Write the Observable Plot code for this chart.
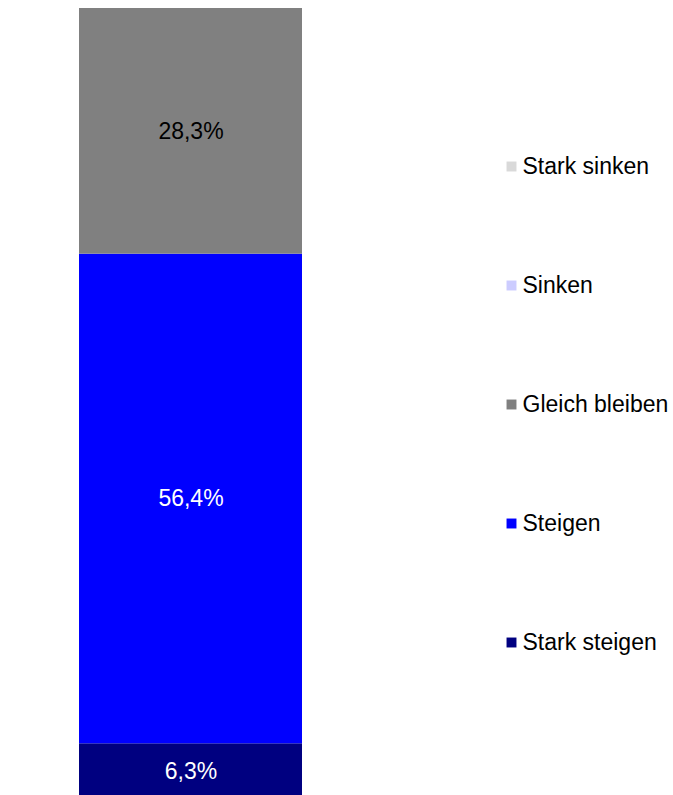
<!DOCTYPE html>
<html>
<head>
<meta charset="utf-8">
<script src="https://cdn.jsdelivr.net/npm/d3@7"></script>
<script src="https://cdn.jsdelivr.net/npm/@observablehq/plot@0.6"></script>
<style>
  html, body { margin: 0; padding: 0; background: #fff; overflow: hidden; }
  #wrap { position: relative; width: 673px; height: 795px; }
  #chart { position: absolute; left: 0; top: 0; }
  #legend { position: absolute; left: 490px; top: 0; }
  svg { font-family: "Liberation Sans", Arial, sans-serif; }
</style>
</head>
<body>
<div id="wrap"><div id="chart"></div><div id="legend"></div></div>
<script>
// Categories, stacked from bottom to top
const categories = ["Stark steigen", "Steigen", "Gleich bleiben", "Sinken", "Stark sinken"];
const values = [6.3, 56.4, 28.3, 0, 0];
const colors = ["#000080", "#0000ff", "#808080", "#ccccff", "#d9d9d9"];
const labelColors = ["#ffffff", "#ffffff", "#000000", "#000000", "#000000"];
const legendOrder = ["Stark sinken", "Sinken", "Gleich bleiben", "Steigen", "Stark steigen"];

const data = categories.map((c, i) => ({group: "Alle", cat: c, value: values[i], label: labelColors[i]}));
const fmt = v => v.toFixed(1).replace(".", ",") + "%";

const colorScale = {domain: categories, range: colors};

const chart = Plot.plot({
  width: 302,
  height: 798,
  marginLeft: 79,
  marginRight: 0,
  marginTop: 8,
  marginBottom: 0,
  style: {fontFamily: "Liberation Sans, Arial, sans-serif", background: "transparent"},
  x: {type: "band", domain: ["Alle"], padding: 0, axis: null},
  y: {domain: [0, 91], axis: null},
  color: colorScale,
  marks: [
    Plot.barY(data, Plot.stackY({x: "group", y: "value", fill: "cat", order: categories})),
    Plot.text(data.filter(d => d.value > 0), Plot.stackY({
      x: "group", y: "value", z: "cat", order: categories,
      text: d => fmt(d.value), fill: d => d.label, fontSize: 23
    }))
  ]
});
document.getElementById("chart").appendChild(chart);

const legend = Plot.plot({
  width: 183,
  height: 795,
  margin: 0,
  style: {fontFamily: "Liberation Sans, Arial, sans-serif", background: "transparent"},
  x: {domain: [0, 1], axis: null},
  y: {type: "point", domain: legendOrder, range: [166, 642], padding: 0, axis: null},
  color: colorScale,
  marks: [
    Plot.dot(legendOrder, {y: d => d, frameAnchor: "left", dx: 21, symbol: "square", r: 5.6, fill: d => d, stroke: null}),
    Plot.text(legendOrder, {y: d => d, frameAnchor: "left", dx: 32, text: d => d, textAnchor: "start", fill: "#000", fontSize: 23})
  ]
});
document.getElementById("legend").appendChild(legend);
</script>
</body>
</html>
